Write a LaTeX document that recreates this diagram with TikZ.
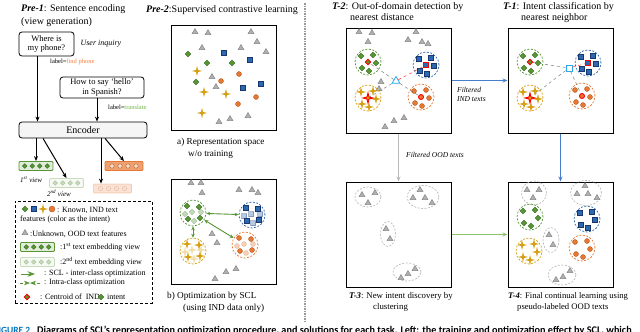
\documentclass[tikz,border=0pt]{standalone}
\usepackage{fontspec}
\setmainfont{Liberation Serif}
\newfontfamily\capfont{Carlito}
\usepackage{tikz}
\usetikzlibrary{positioning, arrows.meta, shapes.geometric, calc}
\usepackage{xcolor}

\definecolor{indgreen}{RGB}{88,150,52}
\definecolor{indgreenD}{RGB}{50,105,30}
\definecolor{indblue}{RGB}{45,105,175}
\definecolor{indblueD}{RGB}{25,55,110}
\definecolor{indgold}{RGB}{215,160,20}
\definecolor{indorange}{RGB}{230,120,50}
\definecolor{indorangeD}{RGB}{170,80,30}
\definecolor{oodgray}{RGB}{175,175,175}
\definecolor{qcyan}{RGB}{40,170,235}
\definecolor{flowblue}{RGB}{70,125,205}
\definecolor{flowgreen}{RGB}{140,195,105}
\definecolor{capblue}{RGB}{0,114,188}
\definecolor{labelorange}{RGB}{240,130,60}
\definecolor{labelgreen}{RGB}{110,180,70}

\begin{document}
\begin{tikzpicture}[
    x=1pt, y=-1pt,
    >=Stealth,
    every node/.style={inner sep=0pt, font=\fontsize{9}{10}\selectfont},
    title/.style={anchor=north west, align=left, font=\fontsize{10}{11}\selectfont},
    subcap/.style={anchor=north west, align=left, font=\fontsize{8.8}{11}\selectfont},
    panel/.style={draw, line width=1pt, minimum width=105pt, minimum height=105pt},
    ask/.style={draw, rounded corners=3pt, line width=0.8pt, align=center, font=\fontsize{8.5}{9.5}\selectfont},
    note/.style={anchor=west, align=left, font=\itshape\fontsize{7.5}{9}\selectfont},
    tag/.style={anchor=west, font=\fontsize{6.5}{7}\selectfont},
    legtext/.style={anchor=west, font=\fontsize{8}{9}\selectfont},
    vbox/.style={draw=indgreen, fill=indgreen!18, line width=0.8pt, rounded corners=1pt, minimum width=34pt, minimum height=9pt},
    obox/.style={draw=indorange, fill=indorange!70, line width=0.8pt, rounded corners=1pt, minimum width=38pt, minimum height=9pt},
    faded/.style={opacity=0.3},
    dia/.style={diamond, draw=indgreenD, fill=indgreen, line width=0.3pt, minimum size=6pt},
    sq/.style={rectangle, draw=indblueD, fill=indblue, line width=0.3pt, minimum size=5pt},
    crs/.style={star, star points=4, star point ratio=3.5, fill=indgold, minimum size=10pt},
    circ/.style={circle, draw=indorangeD, fill=indorange, line width=0.3pt, minimum size=5pt},
    tri/.style={regular polygon, regular polygon sides=3, draw=gray, fill=oodgray, line width=0.4pt, minimum size=7pt},
    cen/.style={draw=red, line width=0.9pt},
    clu/.style={circle, dash pattern=on 2pt off 1.5pt, line width=0.7pt, minimum size=26pt},
    oodclu/.style={ellipse, draw=gray!60, dash pattern=on 2pt off 1.5pt, line width=0.6pt},
    arrow/.style={->, line width=1pt, >={Stealth[length=5pt,width=4pt]}},
    flow/.style={->, line width=0.9pt, >={Stealth[length=5pt,width=4pt]}},
    scl/.style={<->, draw=indgreen, line width=0.9pt, >={Stealth[length=4pt,width=3.5pt]}},
    qline/.style={dashed, gray, line width=0.5pt},
]
\useasboundingbox (0,0) rectangle (640,332);

% ── Pre-1: sentence encoding ──
\node[title, font=\fontsize{10}{13.4}\selectfont] (pre1) at (21,4) {\textbf{\textit{Pre-1}}: Sentence encoding\\(view generation)};

\node[ask, minimum width=55pt, minimum height=24pt] (ask1) at (46.5,44) {Where is\\my phone?};
\node[note, right=6pt of ask1, font=\itshape\fontsize{8}{9}\selectfont] (inquiry) {User inquiry};
\node[tag] (lab1) at (50,62) {label=\textcolor{labelorange}{find phone}};

\node[ask, minimum width=84pt, minimum height=21pt] (ask2) at (102,87.5) {How to say ‘hello’\\in Spanish?};
\node[tag] (lab2) at (108,107) {label=\textcolor{labelgreen}{translate}};

\node[draw, rounded corners=3pt, line width=0.8pt, fill=gray!8, minimum width=128pt, minimum height=16pt, font=\fontsize{10}{11}\selectfont]
    (enc) at (83,130) {Encoder};

% ── views ──
\node[vbox] (v1) at (36,166) {};
\foreach \i in {1,...,4}
    \node[dia, minimum size=5pt] at ([xshift={(\i-2.5)*7.5pt}]v1.center) {};
\begin{scope}[faded]
\node[vbox] (v2) at (66.5,183) {};
\foreach \i in {1,...,4}
    \node[dia, minimum size=5pt] at ([xshift={(\i-2.5)*7.5pt}]v2.center) {};
\end{scope}
\node[obox] (v3) at (124,166) {};
\foreach \i in {1,...,4}
    \node[circ, fill=indorange!30, minimum size=4.5pt] at ([xshift={(\i-2.5)*8pt}]v3.center) {};
\begin{scope}[faded]
\node[obox] (v4) at (112.5,188.5) {};
\foreach \i in {1,...,4}
    \node[circ, fill=indorange!30, minimum size=4.5pt] at ([xshift={(\i-2.5)*8pt}]v4.center) {};
\end{scope}
\node[note, font=\itshape\fontsize{7}{8}\selectfont] (view1) at (20,180) {1\textsuperscript{st} view};
\node[note, font=\itshape\fontsize{7}{8}\selectfont] (view2) at (47,193) {2\textsuperscript{nd} view};

\draw[arrow] ([xshift=-9pt]ask1.south) -- ([xshift=-9pt]ask1.south |- enc.north);
\draw[arrow] ([xshift=-5pt]ask2.south) -- ([xshift=-5pt]ask2.south |- enc.north);
\draw[arrow] (enc.south -| v1.north) -- (v1.north);
\draw[arrow] ([xshift=-40pt]enc.south) -- (v2.north);
\draw[arrow] ([xshift=18pt]enc.south) -- ([xshift=18pt]enc.south |- v4.north);
\draw[arrow] ([xshift=22pt]enc.south) -- (v3.north);

% ── legend ──
\node[draw, line width=0.8pt, dash pattern=on 3pt off 2pt, minimum width=137pt, minimum height=102pt] (leg) at (83.5,252) {};
\node[dia] (ldia) at (25,209) {};
\node[sq] (lsq) at (34,209) {};
\node[crs] (lcrs) at (43,209) {};
\node[circ, minimum size=6pt] (lcirc) at (52,209) {};
\node[legtext] (lknown) at (57,210) {: Known, IND text};
\node[legtext] (lknown2) at (20,220) {features (color as the intent)};
\node[tri] (ltri) at (25,233) {};
\node[legtext] (lood) at (30,234) {:Unknown, OOD text features};
\node[vbox] (lv1) at (37.5,247) {};
\foreach \i in {1,...,4}
    \node[dia, minimum size=5pt] at ([xshift={(\i-2.5)*7.5pt}]lv1.center) {};
\node[legtext] (lview1) at (60,247) {:1\textsuperscript{st} text embedding view};
\begin{scope}[faded]
\node[vbox] (lv2) at (37.5,262) {};
\foreach \i in {1,...,4}
    \node[dia, minimum size=5pt] at ([xshift={(\i-2.5)*7.5pt}]lv2.center) {};
\end{scope}
\node[legtext] (lview2) at (60,262) {:2\textsuperscript{nd} text embedding view};
\coordinate (l5a) at (21,274);
\coordinate (l5b) at (35,274);
\draw[->, indgreen, line width=1pt] (l5a) -- (l5b);
\node[legtext] (linter) at (44,274) {: SCL - inter-class optimization};
\coordinate (l6a) at (20,283);
\coordinate (l6m) at (30,283);
\coordinate (l6b) at (40,283);
\draw[->, indgreen, dashed, line width=0.7pt] (l6a) -- (l6m);
\draw[->, indgreen, dashed, line width=0.7pt] (l6b) -- (l6m);
\node[legtext] (lintra) at (44,283) {: Intra-class optimization};
\node[dia, cen] (lcen) at (27,297) {};
\node[legtext] (lcentroid) at (40,297) {: Centroid of\ \ IND};
\node[dia] (ldia2) at (101,297) {};
\node[legtext] (lintent) at (107,297) {intent};

% ── Pre-2: supervised contrastive learning ──
\node[anchor=west, font=\fontsize{10}{11}\selectfont] (pre2) at (146,10) {\textbf{\textit{Pre-2}}:Supervised contrastive learning};
\node[panel] (pa) at (223.5,77.5) {};
\node[panel, below=48pt of pa] (pb) {};
\node[subcap, font=\fontsize{9.2}{12}\selectfont] (capa) at (177,138) {a) Representation space\\\hspace*{11pt}w/o training};
\node[subcap, font=\fontsize{9.2}{11.5}\selectfont] (capb) at (167,292) {b) Optimization by SCL\\\hspace*{16pt}(using IND data only)};

% a) before training
\foreach \x/\y in {195/32, 208/33, 251/32, 257/42, 202/48, 241/48, 266/52, 212/77, 216/87, 219/122, 230/119, 248/116}
    \node[tri] at (\x,\y) {};
\foreach \x/\y in {188/54, 207/63, 232/63, 196/82}
    \node[dia] at (\x,\y) {};
\foreach \x/\y in {224/53, 250/60, 243/88, 261/84}
    \node[sq] at (\x,\y) {};
\foreach \x/\y in {239/74, 221/81, 256/97, 238/104}
    \node[circ] at (\x,\y) {};
\foreach \x/\y in {197/71, 204/92, 226/94, 202/113}
    \node[crs] at (\x,\y) {};

% b) after SCL
\foreach \x/\y in {191/183, 201/183, 202/193, 239/190, 252/190, 258/193, 212/234, 217/243, 226/272, 236/269, 215/279}
    \node[tri] at (\x,\y) {};
\foreach \cx/\cy/\mk/\cl/\nm in {193/213/dia/indgreen/bg, 252/215/sq/indblue/bb, 193/251/crs/indgold/by, 245/245/circ/indorange/bo} {
    \node[clu, draw=\cl] (\nm) at (\cx,\cy) {};
    \foreach \dx/\dy in {-1/-1, 8/-1, -8/1, 1/8}
        \node[\mk, opacity=0.35] at ([shift={(\dx,\dy)}]\nm.center) {};
    \foreach \dx/\dy in {-6/-7, 6/-6, -5/6, 7/5}
        \node[\mk] at ([shift={(\dx,\dy)}]\nm.center) {};
}
\draw[scl] (bg) -- (bb);
\draw[scl] (bg) -- (bo);
\draw[scl] (bg) -- (by);

% ── divider ──
\coordinate (divtop) at (305,3);
\coordinate (divbot) at (305,322);
\draw[gray!80, line width=1.2pt, dash pattern=on 1.5pt off 1pt] (divtop) -- (divbot);

% ── T-2: OOD detection ──
\node[title] (tit2) at (332,2) {\textbf{\textit{T-2}}: Out-of-domain detection by\\\hspace*{18pt}nearest distance};
\node[panel] (t2) at (398.5,80.5) {};
\foreach \x/\y in {359/32, 372/33, 368/42, 416/32, 408/40, 422/42, 428/44, 381/82, 379/89, 404/118, 394/121, 385/127}
    \node[tri] at (\x,\y) {};
\foreach \cx/\cy/\mk/\cl/\nm in {368/62/dia/indgreen/tg, 426/65/sq/indblue/tb, 368/98/crs/indgold/ty, 421/97/circ/indorange/to} {
    \node[clu, draw=\cl] (\nm2) at (\cx,\cy) {};
    \foreach \dx/\dy in {-7/-6, 5/-7, -6/6, 8/1, 1/9}
        \node[\mk] at ([shift={(\dx,\dy)}]\nm2.center) {};
    \node[\mk, cen] (\nm2c) at (\nm2) {};
}
\node[tri, draw=qcyan, fill=white, line width=0.8pt, minimum size=9pt] (qood) at (396,81) {};
\draw[qline] (qood) -- (tg2c);
\draw[qline] (qood) -- (ty2c);
\draw[qline] (qood) -- (to2c);
\draw[qline, red!80] (qood) -- (tb2c);

% ── T-1: intent classification ──
\node[title] (tit1) at (503,2) {\textbf{\textit{T-1}}: Intent classification by\\\hspace*{18pt}nearest neighbor};
\node[panel, right=56pt of t2] (t1) {};
\foreach \cx/\cy/\mk/\cl/\nm in {530/62/dia/indgreen/tg, 588/63/sq/indblue/tb, 530/98/crs/indgold/ty, 582/96/circ/indorange/to} {
    \node[clu, draw=\cl] (\nm1) at (\cx,\cy) {};
    \foreach \dx/\dy in {-7/-6, 5/-7, -6/6, 8/1, 1/9}
        \node[\mk] at ([shift={(\dx,\dy)}]\nm1.center) {};
    \node[\mk, cen] (\nm1c) at (\nm1) {};
}
\node[sq, draw=qcyan, fill=white, line width=0.8pt, minimum size=6pt] (qind) at (569,68) {};
\draw[qline] (qind) -- (tg1c);
\draw[qline] (qind) -- (ty1c);
\draw[qline] (qind) -- (to1c);
\draw[qline, red!80] (qind) -- (tb1c);

% ── T-3: new intent discovery ──
\node[panel, below=48pt of t2] (t3) {};
\node[subcap] (tit3) at (349,292) {\textbf{\textit{T-3}}: New intent discovery by\\\hspace*{24pt}clustering};
\node[oodclu, minimum width=26pt, minimum height=20pt] (c31) at (368,197) {};
\node[oodclu, minimum width=32pt, minimum height=23pt] (c32) at (423,197) {};
\node[oodclu, minimum width=15pt, minimum height=25pt] (c33) at (388,234) {};
\node[oodclu, minimum width=28pt, minimum height=18pt] (c34) at (407,272) {};
\foreach \x/\y in {362/195, 375/193, 368/203, 413/198, 420/190, 425/198, 432/203, 386/229, 390/239, 401/278, 408/274, 415/269}
    \node[tri] at (\x,\y) {};

% ── T-4: continual learning ──
\node[panel, below=48pt of t1] (t4) {};
\node[subcap, font=\fontsize{8.6}{11}\selectfont] (tit4) at (508,292) {\textbf{\textit{T-4}}: Final continual learning using\\\hspace*{9pt}pseudo-labeled OOD texts};
\node[oodclu, minimum width=25pt, minimum height=24pt] (c41) at (534,193) {};
\node[oodclu, minimum width=31pt, minimum height=25pt] (c42) at (586,193) {};
\node[oodclu, minimum width=16pt, minimum height=25pt] (c43) at (551,240) {};
\node[oodclu, minimum width=28pt, minimum height=20pt] (c44) at (562,275) {};
\foreach \x/\y in {527/190, 539/190, 533/198, 577/194, 585/186, 588/194, 597/198, 549/235, 553/245, 556/280, 563/277, 570/271}
    \node[tri] at (\x,\y) {};
\foreach \cx/\cy/\mk/\cl/\nm in {530/217/dia/indgreen/tg, 587/219/sq/indblue/tb, 529/251/crs/indgold/ty, 582/248/circ/indorange/to} {
    \node[clu, draw=\cl] (\nm4) at (\cx,\cy) {};
    \foreach \dx/\dy in {-7/-6, 5/-7, -6/6, 8/1, 1/9}
        \node[\mk] at ([shift={(\dx,\dy)}]\nm4.center) {};
}

% ── flows between tasks ──
\draw[flow, flowblue] (t2.east) -- (t1.west);
\node[note] (lind) at (457,94) {Filtered\\IND texts};
\draw[flow, gray!55] (t2.south) -- (t3.north);
\node[note] (loodt) at (406,155) {Filtered OOD texts};
\draw[flow, flowblue] (t1.south) -- (t4.north);
\draw[flow, flowgreen] (t3.east) -- (t4.west);

% ── figure caption (cut by the page) ──
\begin{scope}
\clip (0,0) rectangle (640,332);
\node[anchor=base west, font=\capfont\bfseries\fontsize{9.5}{11}\selectfont, text=capblue] (fig) at (-6,333) {FIGURE 2};
\node[anchor=base west, font=\capfont\bfseries\fontsize{10.2}{11}\selectfont] (figcap) at (37,333) {Diagrams of SCL’s representation optimization procedure, and solutions for each task. Left: the training and optimization effect by SCL, which};
\end{scope}
\end{tikzpicture}
\end{document}
